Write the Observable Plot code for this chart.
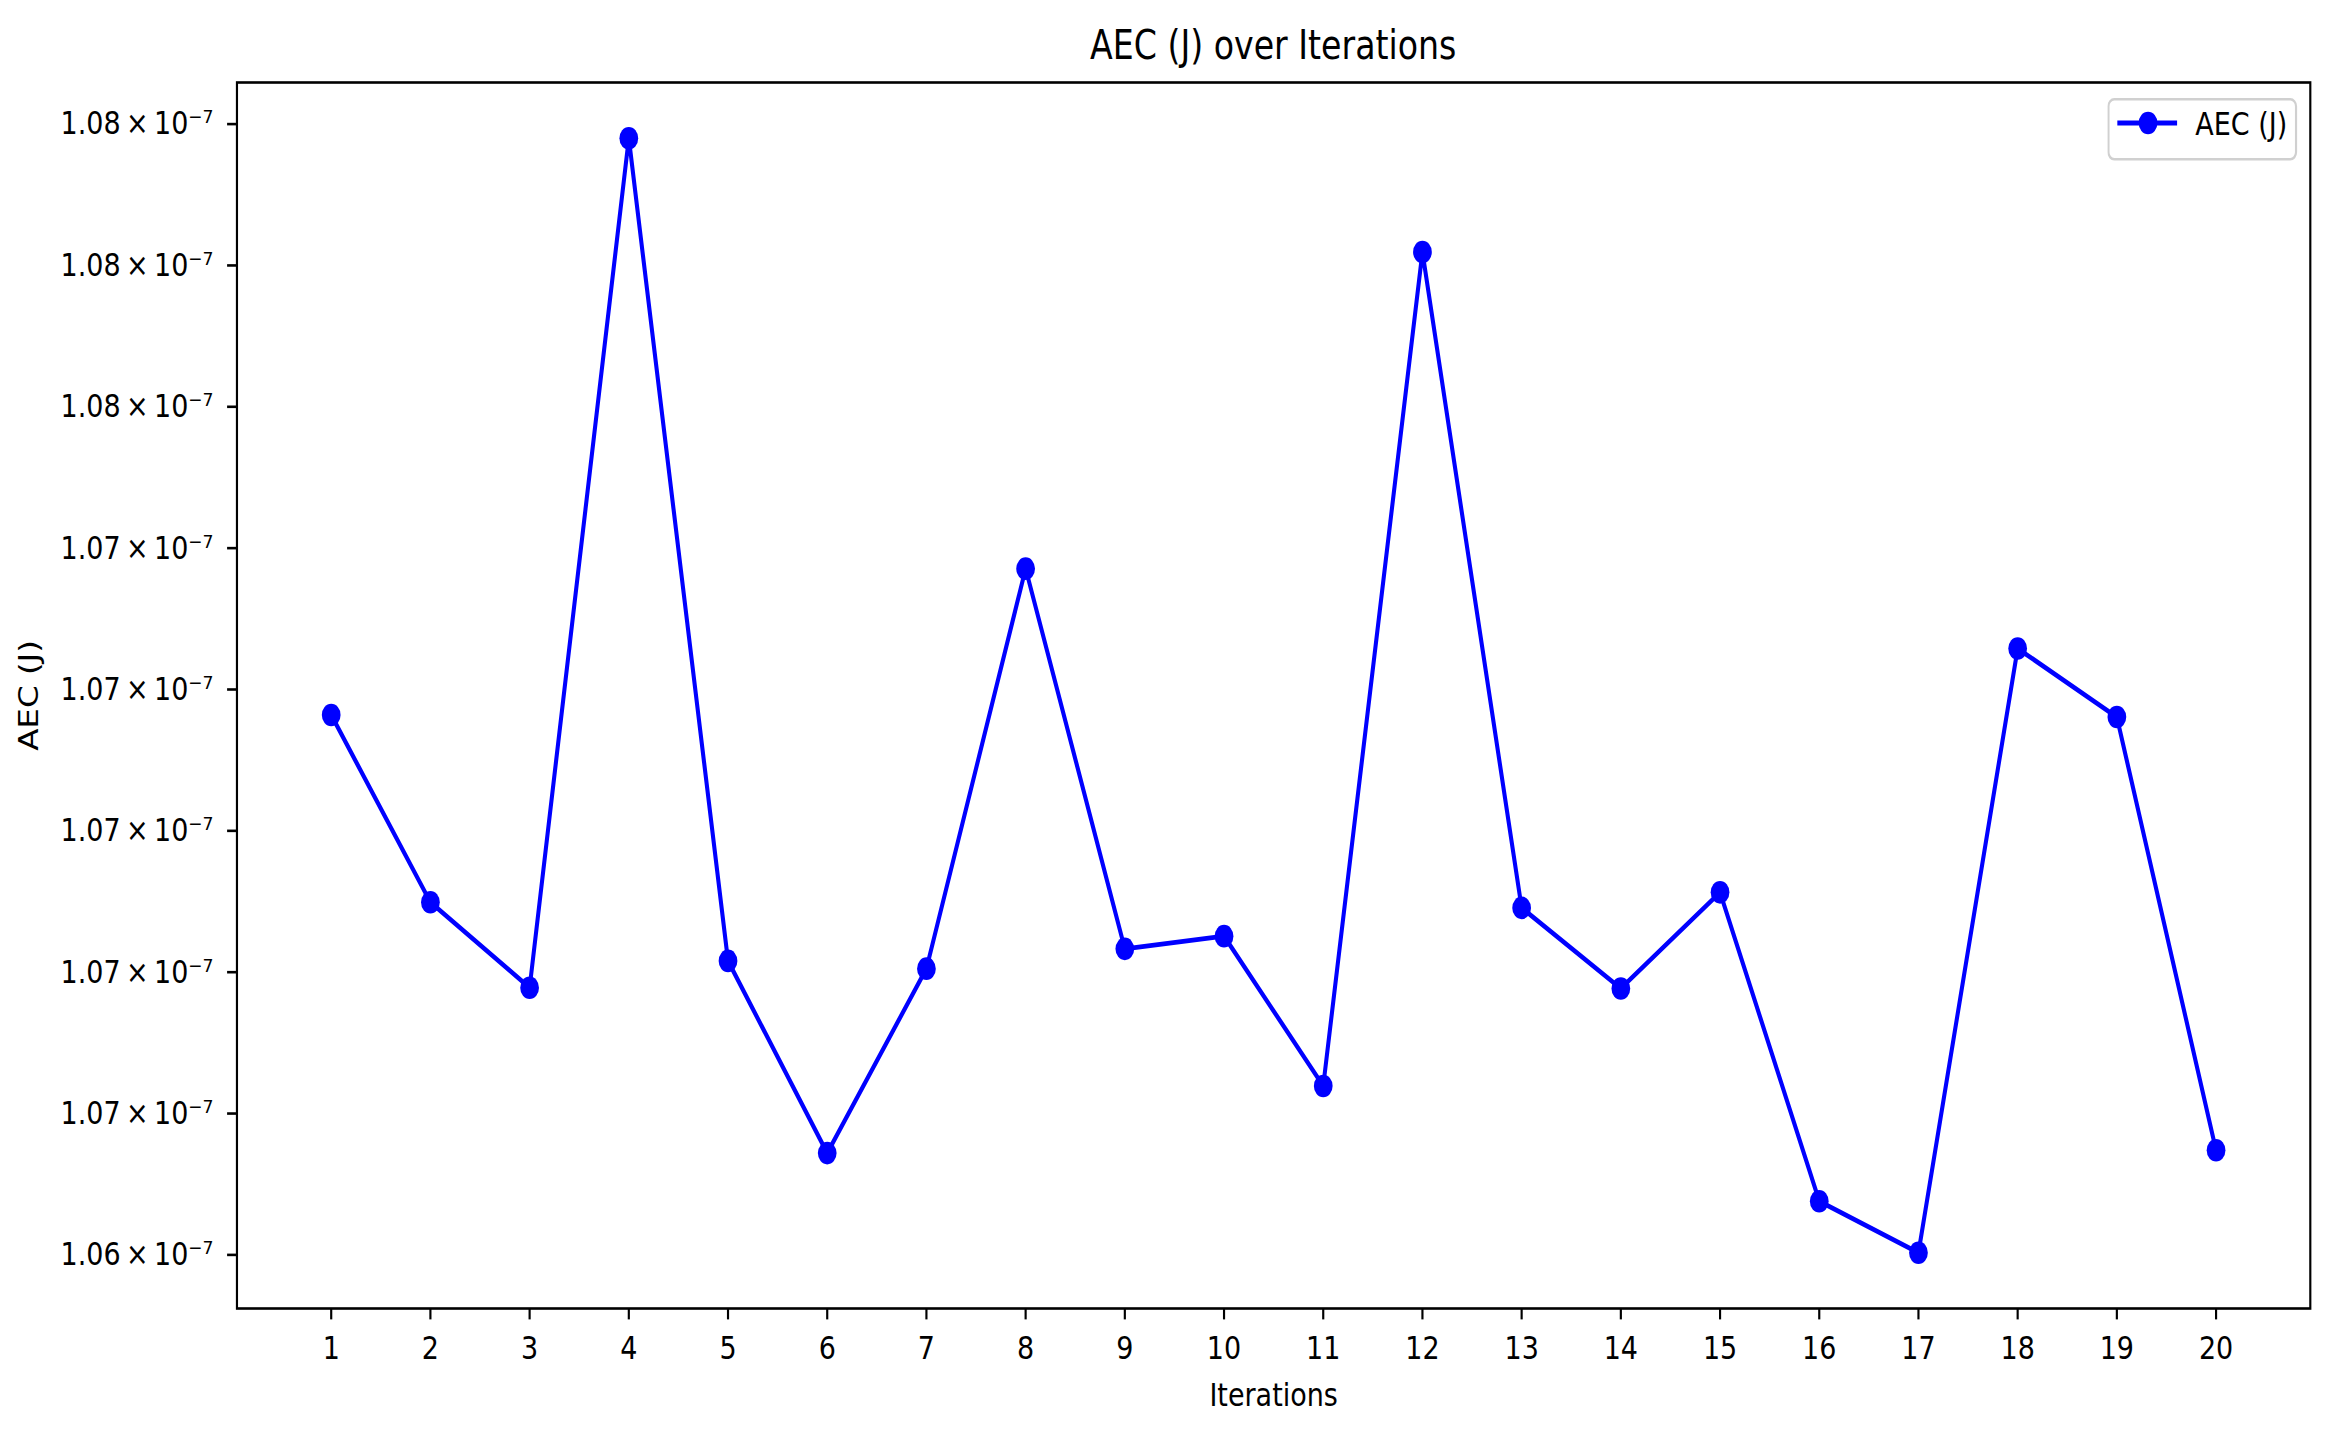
<!DOCTYPE html>
<html>
<head>
<meta charset="utf-8">
<script src="https://cdn.jsdelivr.net/npm/d3@7"></script>
<script src="https://cdn.jsdelivr.net/npm/@observablehq/plot@0.6"></script>
<style>
  html, body { margin: 0; padding: 0; background: #fff; overflow: hidden; }
  #wrap {
    position: relative; width: 2808px; height: 1429px;
    transform: scaleX(0.83); transform-origin: 0 0;
    font-family: "DejaVu Sans", sans-serif; color: #000;
  }
  #title {
    height: 72px; box-sizing: border-box; padding: 24.5px 25px 0 285px;
    text-align: center; font-size: 40px; line-height: 40px; white-space: nowrap;
  }
  #legend { position: absolute; left: 2539px; top: 98px; }
  #chart svg { display: block; }
</style>
</head>
<body>
<div id="wrap">
  <div id="title">AEC (J) over Iterations</div>
  <div id="chart"></div>
  <svg id="legend" width="232" height="66">
    <rect x="1.3" y="1.3" width="226" height="60" rx="7" fill="#fff" stroke="#d0d0d0" stroke-width="2.6"></rect>
    <line x1="12" x2="84" y1="25" y2="25" stroke="#0000ff" stroke-width="4.9"></line>
    <circle cx="49" cy="25" r="11.3" fill="#0000ff"></circle>
    <text x="106" y="37" font-size="32.5" font-family="DejaVu Sans" fill="#000">AEC (J)</text>
  </svg>
</div>
<script>
const iterations = [1, 2, 3, 4, 5, 6, 7, 8, 9, 10, 11, 12, 13, 14, 15, 16, 17, 18, 19, 20];
const aec = [
  1.07164e-7, 1.06899e-7, 1.06778e-7, 1.07980e-7, 1.06816e-7,
  1.06544e-7, 1.06805e-7, 1.07371e-7, 1.06833e-7, 1.06851e-7,
  1.06639e-7, 1.07819e-7, 1.06891e-7, 1.06777e-7, 1.06913e-7,
  1.06476e-7, 1.06403e-7, 1.07258e-7, 1.07161e-7, 1.06548e-7
];
const xTicks = iterations;
const yTicks = [1.064e-7, 1.066e-7, 1.068e-7, 1.070e-7, 1.072e-7, 1.074e-7, 1.076e-7, 1.078e-7, 1.080e-7];
const yTickFormat = d => d3.format(".2f")(d * 1e7) + "\u2009\u00d7\u200910\u207b\u2077";

const data = iterations.map((it, i) => ({iteration: it, aec: aec[i]}));
const [lo, hi] = d3.extent(aec);
const yPad = (hi - lo) * 0.05;
const [xlo, xhi] = d3.extent(iterations);
const xPad = (xhi - xlo) * 0.05;

const chart = Plot.plot({
  width: 2808,
  height: 1357,
  marginLeft: 285,
  marginRight: 25,
  marginTop: 10,
  marginBottom: 121,
  style: {fontFamily: "DejaVu Sans", fontSize: "32.5px", color: "#000", background: "#fff", overflow: "visible"},
  x: {domain: [xlo - xPad, xhi + xPad]},
  y: {domain: [lo - yPad, hi + yPad]},
  marks: [
    Plot.axisX({
      ticks: xTicks, tickFormat: d => String(d), tickSize: 11.4, tickPadding: 16, strokeWidth: 2.6,
      label: "Iterations", labelAnchor: "center", labelArrow: "none", labelOffset: 97
    }),
    Plot.axisY({
      ticks: yTicks, tickFormat: yTickFormat, tickSize: 11.4, tickPadding: 17, strokeWidth: 2.6,
      label: "AEC (J)", labelAnchor: "center", labelArrow: "none", labelOffset: 263
    }),
    Plot.line(data, {x: "iteration", y: "aec", stroke: "#0000ff", strokeWidth: 4.9}),
    Plot.dot(data, {x: "iteration", y: "aec", r: 11.3, fill: "#0000ff"}),
    Plot.frame({stroke: "#000", strokeWidth: 2.6})
  ]
});
document.getElementById("chart").appendChild(chart);
</script>
</body>
</html>
